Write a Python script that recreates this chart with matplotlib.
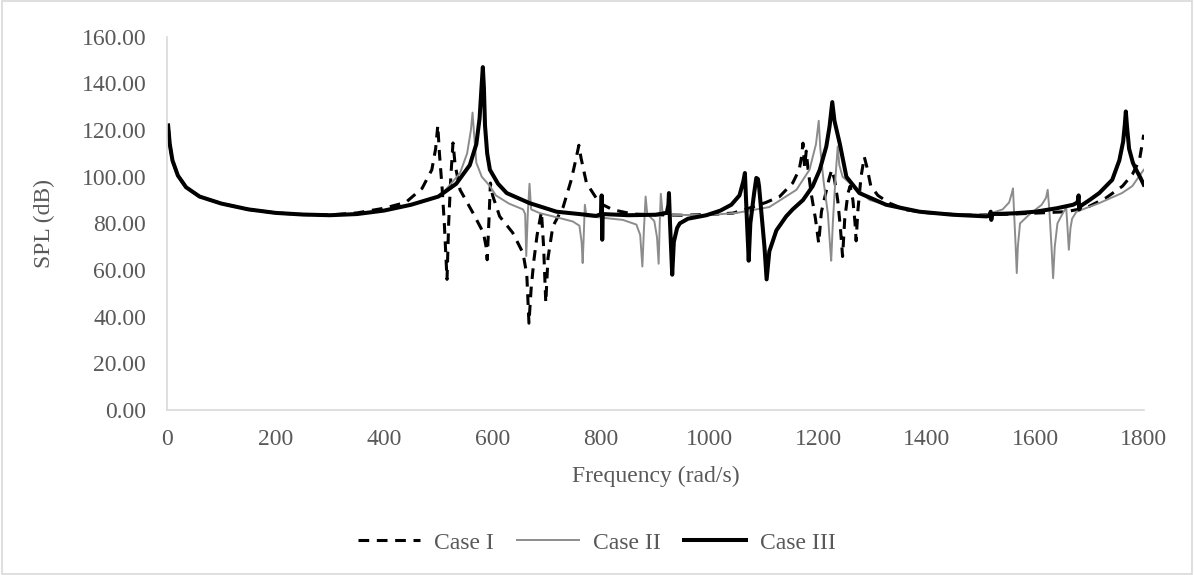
import matplotlib
matplotlib.use("Agg")
import matplotlib.pyplot as plt
from matplotlib.patches import Rectangle

plt.rcParams['font.family'] = ['Liberation Serif', 'DejaVu Serif']

# frequency (rad/s) / SPL (dB)
freq_1 = [2, 5, 10, 20, 35, 60, 100, 150, 200, 250, 300, 350, 400, 440, 470, 488, 495, 499, 502, 507,
          511, 516, 519, 523, 527, 531, 540, 564, 583, 588, 590, 593, 596, 600, 613, 637, 656, 663, 667, 671,
          676, 682, 690, 694, 698, 702, 711, 730, 745, 754, 759, 763, 773, 797, 822, 859, 900, 950, 1000, 1043,
          1079, 1104, 1129, 1153, 1165, 1169, 1172, 1175, 1178, 1181, 1187, 1195, 1201, 1206, 1214, 1220, 1225, 1230, 1236, 1241,
          1245, 1249, 1255, 1259, 1264, 1268, 1270, 1273, 1279, 1285, 1290, 1297, 1310, 1331, 1362, 1400, 1450, 1500, 1560, 1610,
          1657, 1694, 1731, 1761, 1779, 1792, 1800]
spl_1 = [122, 114, 107, 100.5, 95.5, 91.5, 88.5, 86, 84.5, 83.8, 83.6, 84.5, 86.5, 89, 95, 103, 112, 122, 110, 95,
         80, 56, 80, 100, 114.5, 105, 94.4, 84.4, 76, 70, 64.4, 80, 97.3, 92, 83, 76, 67.3, 58, 37.2, 52,
         64, 75, 85, 70, 46, 65, 78.7, 87, 98.7, 108, 113.5, 108, 97.3, 88.7, 85.8, 84, 83.7, 83.5, 83.8, 84.4,
         87, 89, 91.5, 97.3, 103, 108, 114.4, 104, 111, 104, 93, 82, 71.5, 85, 93, 99, 103, 99, 90, 78,
         65.8, 82, 93, 96, 90, 80, 72.5, 85, 100, 108.5, 104, 96, 92, 88.7, 85.8, 84.6, 83.8, 83.6, 84, 84.5,
         85, 86.7, 91, 96, 101, 107, 118]

freq_2 = [2, 5, 10, 20, 35, 60, 100, 150, 200, 250, 300, 350, 400, 450, 503, 540, 553, 560, 563, 566,
          570, 580, 595, 606, 630, 656, 660, 662, 665, 668, 671, 687, 720, 748, 760, 764, 766, 768, 770, 773,
          779, 840, 865, 872, 876, 879, 882, 885, 898, 903, 906, 908, 910, 913, 930, 1000, 1050, 1110, 1160, 1184,
          1196, 1201, 1204, 1210, 1218, 1222, 1224, 1227, 1232, 1236, 1239, 1245, 1258, 1295, 1356, 1420, 1510, 1540, 1552, 1557,
          1559, 1561, 1564, 1566, 1568, 1572, 1590, 1612, 1620, 1623, 1626, 1630, 1633, 1636, 1641, 1650, 1655, 1657, 1659, 1662,
          1665, 1668, 1676, 1718, 1760, 1779, 1800]
spl_2 = [122, 114, 107, 100.5, 95.5, 91.5, 88.5, 86, 84.5, 83.8, 83.5, 84, 85.5, 88, 91.5, 101.6, 110, 120, 127.5, 118,
         106, 100, 96, 92, 88.5, 86, 84, 66, 85, 97, 86, 84.4, 82.5, 80.8, 79, 72, 63, 75, 88, 83,
         83, 81.5, 79.5, 75, 61.5, 78, 91.5, 84, 81, 74, 62.7, 80, 92.7, 85, 83.6, 83.6, 84.5, 87, 94.4, 103,
         114, 124, 112, 98, 84, 70, 64, 80, 100, 113, 105, 100, 97.3, 90, 86, 84.3, 83.7, 86, 89, 93,
         95, 85, 70, 58.7, 70, 80, 84, 88, 91, 94.4, 86, 70, 56.5, 70, 80, 84, 86, 87.3, 80, 68.7,
         78, 82, 85, 88.7, 93, 96, 103]

freq_3 = [2, 5, 10, 20, 35, 60, 100, 150, 200, 250, 300, 350, 400, 450, 500, 533, 558, 570, 576, 580,
          582, 584, 586, 590, 595, 610, 626, 668, 718, 760, 791, 800, 801, 802, 803, 850, 900, 921, 924, 925,
          927, 931, 934, 940, 945, 960, 994, 1020, 1040, 1055, 1062, 1065, 1068, 1072, 1075, 1082, 1086, 1089, 1091, 1096,
          1101, 1105, 1110, 1123, 1141, 1153, 1172, 1190, 1203, 1215, 1221, 1226, 1230, 1233, 1240, 1252, 1276, 1325, 1387, 1448,
          1510, 1516, 1518, 1519, 1521, 1560, 1600, 1640, 1670, 1678, 1680, 1681, 1684, 1700, 1718, 1742, 1755, 1762, 1765, 1767,
          1769, 1773, 1780, 1786, 1793, 1800]
spl_3 = [122, 114, 107, 100.5, 95.5, 91.5, 88.5, 86, 84.5, 83.8, 83.5, 84, 85.5, 88, 91.5, 97, 105, 114, 125, 140,
         147, 138, 122, 110, 103, 97, 93, 88.7, 85, 84, 83.2, 84, 92, 73, 84, 83.5, 83.7, 84.5, 88, 93,
         80, 58, 72, 78, 80, 82, 83.5, 85.5, 88, 92, 98, 101.6, 85, 64, 80, 93, 99.5, 99, 96, 83,
         70, 56, 68, 77, 83, 86, 90, 96, 103, 113, 121.6, 132, 124, 121, 114, 100, 93, 88, 85, 83.7,
         83, 83.2, 85, 81.5, 84, 84.3, 85, 86.5, 88, 89, 92, 86, 87.5, 90, 93, 98.7, 107, 115, 122, 128,
         122, 112, 106, 103, 100, 96.6]

y_ticks = [0, 20, 40, 60, 80, 100, 120, 140, 160]
x_ticks = [0, 200, 400, 600, 800, 1000, 1200, 1400, 1600, 1800]

grey_txt = '#595959'
grey_axis = '#d9d9d9'

fig = plt.figure(figsize=(11.94, 5.75), dpi=100)
ax = fig.add_axes([0.1399, 0.287, 0.818, 0.649])

ax.plot(freq_1, spl_1, color='black', lw=2.2, linestyle=(0, (3.5, 2.5)), label='Case I')
ax.plot(freq_2, spl_2, color='#8c8c8c', lw=1.4, label='Case II')
ax.plot(freq_3, spl_3, color='black', lw=2.9, label='Case III')

ax.set_xlim(0, 1800)
ax.set_ylim(0, 160)
ax.set_xticks(x_ticks)
ax.set_yticks(y_ticks)
ax.set_yticklabels([f"{v:.2f}" for v in y_ticks])
ax.tick_params(length=0, labelsize=17, colors=grey_txt)
ax.tick_params(axis='x', pad=14)
ax.tick_params(axis='y', pad=15)
for s in ['top', 'right']:
    ax.spines[s].set_visible(False)
for s in ['left', 'bottom']:
    ax.spines[s].set_color(grey_axis)
    ax.spines[s].set_linewidth(1.2)

ax.set_xlabel("Frequency (rad/s)", fontsize=17, color=grey_txt)
ax.set_ylabel("SPL (dB)", fontsize=17, color=grey_txt)
ax.xaxis.set_label_coords(0.5, -0.15)
ax.yaxis.set_label_coords(-0.115, 0.5)

fig.legend(loc='center', bbox_to_anchor=(0.5, 0.0557), ncol=3, frameon=False,
           fontsize=17, handlelength=2.6, handletextpad=0.6, columnspacing=1.0,
           labelcolor=grey_txt)

# chart area border
fig.patches.append(Rectangle((0.002, 0.002), 0.996, 0.996, transform=fig.transFigure,
                             fill=False, edgecolor=grey_axis, lw=1.2))

fig.savefig("out.png", dpi=100)
